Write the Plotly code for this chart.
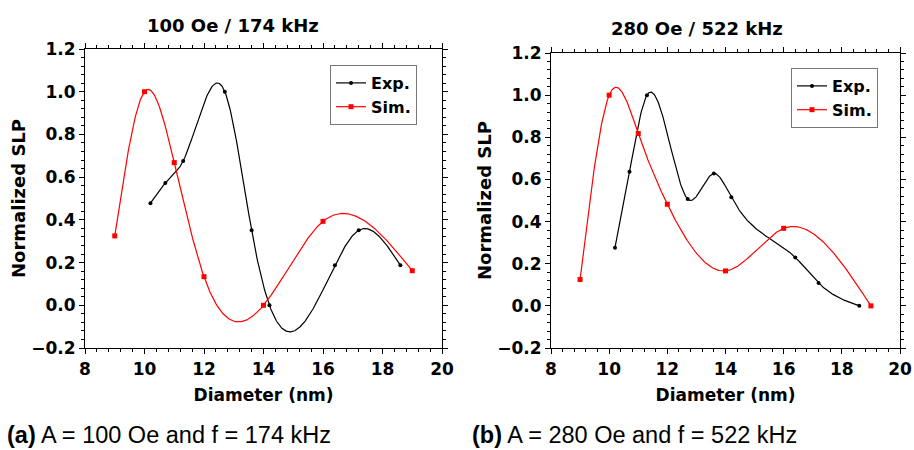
import numpy as np
import plotly.graph_objects as go

W, H = 914, 450

# ---- data ----
exp_a_x = [10.2, 10.7, 11.3, 12.7, 13.6, 14.2, 16.4, 17.2, 18.6]
exp_a_y = [0.478, 0.572, 0.676, 1.0, 0.351, 0.0, 0.187, 0.351, 0.187]
sim_a_x = [9, 10, 11, 12, 14, 16, 19]
sim_a_y = [0.325, 1.0, 0.668, 0.134, 0.0, 0.393, 0.162]

exp_b_x = [10.2, 10.7, 11.3, 12.7, 13.6, 14.2, 16.4, 17.2, 18.6]
exp_b_y = [0.276, 0.636, 1.0, 0.507, 0.628, 0.515, 0.230, 0.108, 0.0]
sim_b_x = [9, 10, 11, 12, 14, 16, 19]
sim_b_y = [0.125, 1.0, 0.818, 0.482, 0.166, 0.368, 0.0]

titles = ["100 Oe / 174 kHz", "280 Oe / 522 kHz"]
captions = ["<b>(a)</b> A = 100 Oe and f = 174 kHz", "<b>(b)</b> A = 280 Oe and f = 522 kHz"]
x_title = "Diameter (nm)"
y_title = "Normalized SLP"
series_names = ["Exp.", "Sim."]

FONT = "DejaVu Sans"


def spline_line(x, y, n=400):
    """Natural cubic spline through the data points (the connecting line style)."""
    x = np.asarray(x, float)
    y = np.asarray(y, float)
    m = len(x)
    h = np.diff(x)
    A = np.zeros((m, m))
    r = np.zeros(m)
    A[0, 0] = 1
    A[-1, -1] = 1
    for i in range(1, m - 1):
        A[i, i - 1] = h[i - 1]
        A[i, i] = 2 * (h[i - 1] + h[i])
        A[i, i + 1] = h[i]
        r[i] = 3 * ((y[i + 1] - y[i]) / h[i] - (y[i] - y[i - 1]) / h[i - 1])
    c = np.linalg.solve(A, r)
    b = (y[1:] - y[:-1]) / h - h * (2 * c[:-1] + c[1:]) / 3
    d = (c[1:] - c[:-1]) / (3 * h)
    xs = np.linspace(x[0], x[-1], n)
    idx = np.clip(np.searchsorted(x, xs) - 1, 0, m - 2)
    dx = xs - x[idx]
    ys = y[idx] + b[idx] * dx + c[idx] * dx ** 2 + d[idx] * dx ** 3
    return xs, ys


def px_x(p):
    return p / W


def px_y(p):
    return 1 - p / H


fig = go.Figure()

panels = [
    dict(ex=exp_a_x, ey=exp_a_y, sx=sim_a_x, sy=sim_a_y, xa="x", ya="y",
         dom_x=[85, 442], dom_y=[49, 348], leg="legend", legbox=(330, 65)),
    dict(ex=exp_b_x, ey=exp_b_y, sx=sim_b_x, sy=sim_b_y, xa="x2", ya="y2",
         dom_x=[551, 900], dom_y=[53, 348], leg="legend2", legbox=(791, 68)),
]

styles = [
    dict(color="black", msize=4, symbol="circle"),
    dict(color="red", msize=5, symbol="square"),
]

for i, p in enumerate(panels):
    for k, (xx, yy) in enumerate([(p["ex"], p["ey"]), (p["sx"], p["sy"])]):
        st = styles[k]
        cx, cy = spline_line(xx, yy)
        fig.add_trace(go.Scatter(
            x=cx, y=cy, mode="lines", showlegend=False, hoverinfo="skip",
            line=dict(color=st["color"], width=1.2),
            xaxis=p["xa"], yaxis=p["ya"]))
        fig.add_trace(go.Scatter(
            x=xx, y=yy, mode="markers", showlegend=False,
            marker=dict(color=st["color"], size=st["msize"], symbol=st["symbol"]),
            xaxis=p["xa"], yaxis=p["ya"]))
        # legend entry (line + marker sample)
        fig.add_trace(go.Scatter(
            x=[None], y=[None], mode="lines+markers", name=series_names[k],
            line=dict(color=st["color"], width=1.2),
            marker=dict(color=st["color"], size=st["msize"], symbol=st["symbol"]),
            xaxis=p["xa"], yaxis=p["ya"], legend=p["leg"]))

axis_common = dict(
    showline=True, linecolor="black", linewidth=1.2, mirror="allticks",
    ticks="outside", ticklen=5, tickwidth=1.2, tickcolor="black",
    showgrid=False, zeroline=False, automargin=False, ticklabeloverflow="allow",
    tickfont=dict(family=FONT, size=17, color="black", weight="bold"),
)
minor_common = dict(ticks="outside", ticklen=3, tickwidth=1, tickcolor="black", showgrid=False)

layout = dict(
    width=W, height=H, margin=dict(l=0, r=0, t=0, b=0, autoexpand=False),
    paper_bgcolor="white", plot_bgcolor="white",
    font=dict(family=FONT, color="black"),
    annotations=[],
)

title_pos = [(233, 25), (697, 29)]

for i, p in enumerate(panels):
    sfx = "" if i == 0 else "2"
    xa = dict(axis_common)
    xa.update(domain=[px_x(p["dom_x"][0]), px_x(p["dom_x"][1])], range=[8, 20],
              dtick=2, tick0=8, anchor="y" + sfx,
              minor=dict(minor_common, dtick=0.4),
              title=dict(text="<b>" + x_title + "</b>", font=dict(family=FONT, size=17, color="black"), standoff=11))
    ya = dict(axis_common)
    ya.update(domain=[px_y(p["dom_y"][1]), px_y(p["dom_y"][0])], range=[-0.2, 1.2],
              dtick=0.2, tick0=0, tickformat=".1f", anchor="x" + sfx,
              minor=dict(minor_common, dtick=0.04),
              title=dict(text="<b>" + y_title + "</b>", font=dict(family=FONT, size=18, color="black"), standoff=0))
    layout["xaxis" + sfx] = xa
    layout["yaxis" + sfx] = ya
    layout[p["leg"]] = dict(
        x=px_x(p["legbox"][0]), y=px_y(p["legbox"][1]), xanchor="left", yanchor="top",
        bgcolor="white", bordercolor="#777777", borderwidth=1,
        font=dict(family=FONT, size=16, color="black", weight="bold"),
        tracegroupgap=0, itemwidth=30,
    )
    layout["annotations"].append(dict(
        text="<b>" + titles[i] + "</b>", x=px_x(title_pos[i][0]), y=px_y(title_pos[i][1]),
        xref="paper", yref="paper", showarrow=False, xanchor="center", yanchor="middle",
        font=dict(family=FONT, size=18, color="black")))

for i, x0 in enumerate([5, 470]):
    layout["annotations"].append(dict(
        text=captions[i], x=px_x(x0), y=px_y(435), xref="paper", yref="paper", showarrow=False,
        xanchor="left", yanchor="middle", font=dict(family="Liberation Sans", size=23.5, color="black")))

fig.update_layout(**layout)
fig.write_html("out.html")
